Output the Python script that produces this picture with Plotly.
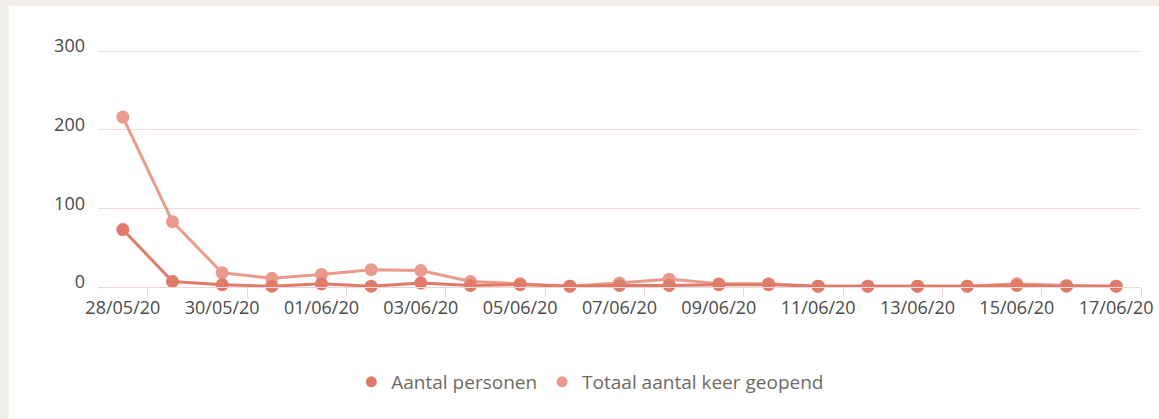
import plotly.graph_objects as go

# ---- data ----
dates = ["28/05/20", "29/05/20", "30/05/20", "31/05/20", "01/06/20", "02/06/20", "03/06/20",
         "04/06/20", "05/06/20", "06/06/20", "07/06/20", "08/06/20", "09/06/20", "10/06/20",
         "11/06/20", "12/06/20", "13/06/20", "14/06/20", "15/06/20", "16/06/20", "17/06/20"]
aantal_personen = [73, 7, 3, 1, 4, 1, 5, 2, 3, 1, 2, 2, 3, 3, 1, 1, 1, 1, 2, 1, 1]
totaal_geopend = [216, 83, 18, 11, 16, 22, 21, 7, 4, 1, 5, 10, 4, 4, 1, 1, 1, 1, 4, 2, 1]
series_names = ["Aantal personen", "Totaal aantal keer geopend"]
y_ticks = [0, 100, 200, 300]

# ---- styles ----
c_pers = "#e07a69"
c_tot = "#ea9a8b"
font_fam = "Open Sans, sans-serif"
frame = "#f0ede8"

x_idx = list(range(len(dates)))
label_idx = x_idx[::2]

fig = go.Figure()
# draw lighter series first so darker one sits on top
for name, vals, col in [(series_names[1], totaal_geopend, c_tot),
                        (series_names[0], aantal_personen, c_pers)]:
    fig.add_trace(go.Scatter(
        x=x_idx, y=vals, mode="lines+markers", name=name,
        customdata=dates,
        hovertemplate="%{customdata}<br>" + name + ": %{y}<extra></extra>",
        line=dict(color=col, width=3),
        marker=dict(color=col, size=13),
        showlegend=False, cliponaxis=False,
    ))
# legend entries (marker only)
for name, col in [(series_names[0], c_pers), (series_names[1], c_tot)]:
    fig.add_trace(go.Scatter(
        x=[None], y=[None], mode="markers", name=name,
        marker=dict(color=col, size=11), showlegend=True,
    ))

W, H = 1159, 419
ml, mr, mt, mb = 98, 18, 49, 132
pw, ph = W - ml - mr, H - mt - mb
y_top = 300 * ph / (287 - 51)


def px_x(v):
    return (v - ml) / pw


def px_y(v):
    return (287 - v) / ph


fig.update_layout(
    width=W, height=H,
    margin=dict(l=ml, r=mr, t=mt, b=mb, pad=0, autoexpand=False),
    paper_bgcolor="white",
    plot_bgcolor="white",
    font=dict(family=font_fam, color="#4a4a4a", size=18),
    showlegend=True,
    legend=dict(
        orientation="h", x=0.472, xanchor="center", y=px_y(382), yanchor="middle",
        font=dict(size=19, color="#6f6a64", family=font_fam),
        bgcolor="rgba(0,0,0,0)", itemclick=False, tracegroupgap=0,
    ),
    shapes=[
        dict(type="rect", xref="paper", yref="paper", layer="below",
             x0=px_x(-5), x1=px_x(W + 5), y0=px_y(5.7), y1=px_y(-5),
             fillcolor=frame, line=dict(width=0)),
        dict(type="rect", xref="paper", yref="paper", layer="below",
             x0=px_x(-5), x1=px_x(8.7), y0=px_y(H + 5), y1=px_y(-5),
             fillcolor=frame, line=dict(width=0)),
    ],
    hovermode="closest",
)

fig.update_xaxes(
    range=[-0.5, len(dates) - 0.5],
    tickmode="array", tickvals=label_idx, ticktext=[dates[i] for i in label_idx],
    ticks="", showgrid=False, zeroline=False,
    showline=True, linecolor="#ecd6d6", linewidth=1,
    tickfont=dict(size=18, color="#4a4a4a"),
    ticklabelstandoff=4,
    minor=dict(tickmode="array", tickvals=[i + 0.5 for i in label_idx],
               ticks="outside", ticklen=9, tickcolor="#ecd6d6", tickwidth=1,
               showgrid=False),
)
fig.update_yaxes(
    range=[0, y_top], tickmode="array", tickvals=y_ticks,
    showgrid=True, gridcolor="#f0dada", gridwidth=1,
    zeroline=False, showline=False, ticks="",
    tickfont=dict(size=18, color="#4a4a4a"),
    ticklabelstandoff=12,
    ticklabelshift=-5,
)

fig.write_html("out.html", config={"displayModeBar": False},
               post_script="document.body.style.margin='0px';document.body.style.overflow='hidden';")
